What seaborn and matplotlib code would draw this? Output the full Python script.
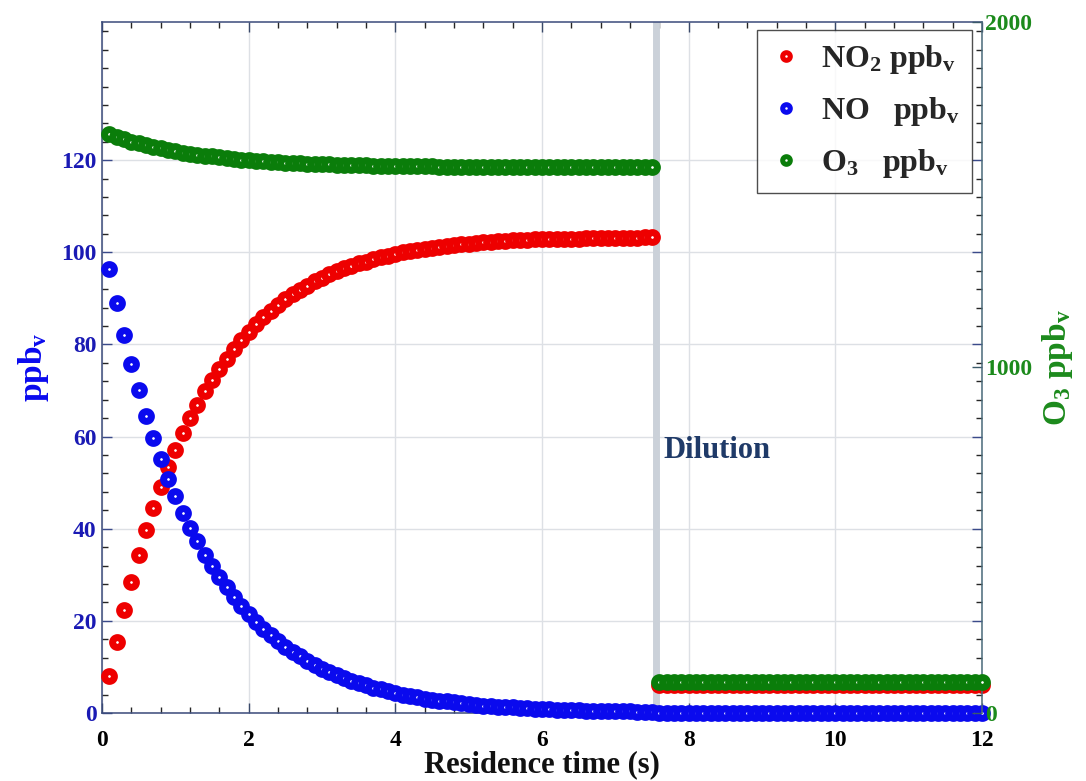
import numpy as np
import pandas as pd
import matplotlib
matplotlib.use("Agg")
import matplotlib.pyplot as plt
from matplotlib.ticker import MultipleLocator, FixedLocator
from matplotlib.lines import Line2D
import seaborn as sns

# ---------------- data ----------------
no_reaction = [96.3, 89.0, 82.0, 75.7, 70.1, 64.5, 59.6, 55.1, 50.9, 47.1,
               43.5, 40.2, 37.3, 34.4, 32.0, 29.6, 27.3, 25.2, 23.3, 21.5,
               19.8, 18.3, 16.9, 15.6, 14.4, 13.3, 12.3, 11.3, 10.4, 9.6,
               8.9, 8.2, 7.6, 7.0, 6.5, 6.0, 5.5, 5.1, 4.7, 4.3,
               4.0, 3.7, 3.4, 3.1, 2.9, 2.7, 2.5, 2.3, 2.1, 1.9,
               1.8, 1.6, 1.5, 1.4, 1.3, 1.2, 1.1, 1.0, 0.93, 0.86,
               0.79, 0.73, 0.67, 0.62, 0.57, 0.53, 0.49, 0.45, 0.42, 0.39,
               0.36, 0.33, 0.30, 0.28, 0.26]
no2_reaction = [8.0, 15.3, 22.3, 28.5, 34.2, 39.7, 44.6, 49.1, 53.3, 57.1,
                60.7, 64.0, 66.9, 69.8, 72.2, 74.6, 76.9, 79.0, 80.9, 82.7,
                84.4, 85.9, 87.3, 88.6, 89.8, 90.9, 91.8, 92.8, 93.7, 94.5,
                95.2, 95.9, 96.5, 97.1, 97.6, 98.0, 98.5, 98.9, 99.3, 99.7,
                100.0, 100.3, 100.6, 100.8, 101.0, 101.2, 101.4, 101.6, 101.8, 101.9,
                102.0, 102.2, 102.3, 102.4, 102.5, 102.6, 102.6, 102.7, 102.8, 102.8,
                102.9, 102.9, 103.0, 103.0, 103.0, 103.1, 103.1, 103.1, 103.2, 103.2,
                103.2, 103.2, 103.2, 103.3, 103.3]
o3_reaction = [1675, 1668, 1661, 1654, 1649, 1643, 1638, 1634, 1630, 1626,
               1622, 1619, 1616, 1613, 1611, 1608, 1606, 1604, 1602, 1600,
               1599, 1597, 1596, 1594, 1593, 1592, 1591, 1590, 1589, 1588.5,
               1588, 1587, 1586.5, 1586, 1585.5, 1585, 1584.5, 1584, 1583.7, 1583.3,
               1583, 1582.7, 1582.4, 1582.2, 1582, 1581.8, 1581.6, 1581.4, 1581.2, 1581.1,
               1581, 1580.8, 1580.7, 1580.6, 1580.5, 1580.4, 1580.4, 1580.3, 1580.2, 1580.2,
               1580.1, 1580.1, 1580, 1580, 1580, 1579.9, 1579.9, 1579.9, 1579.8, 1579.8,
               1579.8, 1579.8, 1579.8, 1579.7, 1579.7]
n_post = 45
no_post = [0.02] * n_post
no2_post = [6.1] * n_post
o3_post = [91.0] * n_post

t_reaction = np.round(0.1 * np.arange(1, len(no_reaction) + 1), 1)
t_post = np.round(7.5 + 0.1 * np.arange(1, n_post + 1), 1)
t_dilution = 7.55

time = np.concatenate([t_reaction, t_post])
df = pd.DataFrame({
    "time": time,
    "NO2": no2_reaction + no2_post,
    "NO": no_reaction + no_post,
    "O3": o3_reaction + o3_post,
})

# ---------------- style ----------------
sns.set_style("ticks")
plt.rcParams["font.family"] = ["Liberation Serif", "DejaVu Serif"]
plt.rcParams["font.weight"] = "bold"
plt.rcParams["mathtext.fontset"] = "custom"
plt.rcParams["mathtext.rm"] = "Liberation Serif:bold"
plt.rcParams["mathtext.it"] = "Liberation Serif:italic:bold"
plt.rcParams["mathtext.bf"] = "Liberation Serif:bold"

RED = "#ee0000"
BLUE = "#0a0aee"
GREEN = "#0a7d0a"
LBLUE = "#1a1ab4"
LGREEN = "#1c8a1c"

fig = plt.figure(figsize=(10.86, 7.81), dpi=100)
ax = fig.add_axes([0.0939, 0.0871, 0.8103, 0.8847])
ax2 = ax.twinx()

ms = 50
mlw = 5.0

# dilution line
ax.axvline(t_dilution, color="#cbd1d9", lw=5, zorder=1)

def draw(axis, col, color):
    sns.scatterplot(data=df, x="time", y=col, ax=axis, color=color,
                    s=ms, linewidth=mlw, edgecolor=color, marker="o",
                    legend=False, zorder=3, clip_on=False)
    axis.collections[-1].set_facecolor("white")

draw(ax, "NO2", RED)
draw(ax, "NO", BLUE)
draw(ax2, "O3", GREEN)

ax.set_xlim(0, 12)
ax.set_ylim(0, 150)
ax2.set_ylim(0, 2000)

ax.xaxis.set_major_locator(MultipleLocator(2))
ax.xaxis.set_minor_locator(MultipleLocator(0.4))
ax.yaxis.set_major_locator(FixedLocator([0, 20, 40, 60, 80, 100, 120]))
ax.yaxis.set_minor_locator(MultipleLocator(4))
ax2.yaxis.set_major_locator(FixedLocator([0, 1000, 2000]))

ax.grid(True, which="major", color="#dde0e5", lw=1.0, zorder=0)
ax.set_axisbelow(True)

ax.tick_params(axis="both", which="both", direction="in", top=True, right=True)
ax.tick_params(axis="both", which="major", length=7, width=1.0)
ax.tick_params(axis="both", which="minor", length=4, width=1.0)
ax.tick_params(axis="x", labelsize=17, colors="#3a4a6a", pad=12)
ax.tick_params(axis="x", labelcolor="black")
ax.tick_params(axis="y", labelsize=17, colors="#3a4a8a", pad=4)
ax.tick_params(axis="y", labelcolor=LBLUE)
ax2.tick_params(axis="y", direction="in", length=7, width=1.0, labelsize=17,
                colors="#3a5a6a", labelcolor=LGREEN, pad=2)

for lab in ax.get_xticklabels() + ax.get_yticklabels() + ax2.get_yticklabels():
    lab.set_fontweight("bold")

for sp in ["left", "bottom", "top"]:
    ax.spines[sp].set_color("#3a4a7a")
    ax.spines[sp].set_linewidth(1.1)
ax2.spines["right"].set_color("#4a6a7a")
ax2.spines["right"].set_linewidth(1.1)
for sp in ["left", "bottom", "top"]:
    ax2.spines[sp].set_visible(False)
ax.spines["right"].set_visible(False)

ax.set_xlabel("Residence time (s)", fontsize=22, fontweight="bold",
              color="#111111", labelpad=0)
ax.set_ylabel(r"ppb$_\mathrm{v}$", fontsize=24, fontweight="bold",
              color=BLUE, labelpad=7)
ax2.set_ylabel(r"O$_\mathrm{3}$ ppb$_\mathrm{v}$", fontsize=24,
               fontweight="bold", color=LGREEN, rotation=90, labelpad=6)

ax.text(t_dilution + 0.1, 57, "Dilution", fontsize=22, fontweight="bold",
        color="#1f3a68", ha="left", va="center", zorder=5)

handles = [
    Line2D([], [], ls="none", marker="o", ms=5.5, mew=3.6, mec=RED, mfc="white"),
    Line2D([], [], ls="none", marker="o", ms=5.5, mew=3.6, mec=BLUE, mfc="white"),
    Line2D([], [], ls="none", marker="o", ms=5.5, mew=3.6, mec=GREEN, mfc="white"),
]
labels = [r"NO$_\mathrm{2}$ ppb$_\mathrm{v}$",
          r"NO   ppb$_\mathrm{v}$",
          r"O$_\mathrm{3}$   ppb$_\mathrm{v}$"]
leg = ax2.legend(handles, labels, loc="upper right", bbox_to_anchor=(0.989, 0.988),
                 fontsize=23, frameon=True, fancybox=False, edgecolor="#222222",
                 borderpad=0.4, labelspacing=0.6, handletextpad=0.55,
                 handlelength=1.05, borderaxespad=0.0)
leg.get_frame().set_linewidth(1.0)
for txt in leg.get_texts():
    txt.set_fontweight("bold")
leg.set_zorder(10)

fig.savefig("out.png", dpi=100)
